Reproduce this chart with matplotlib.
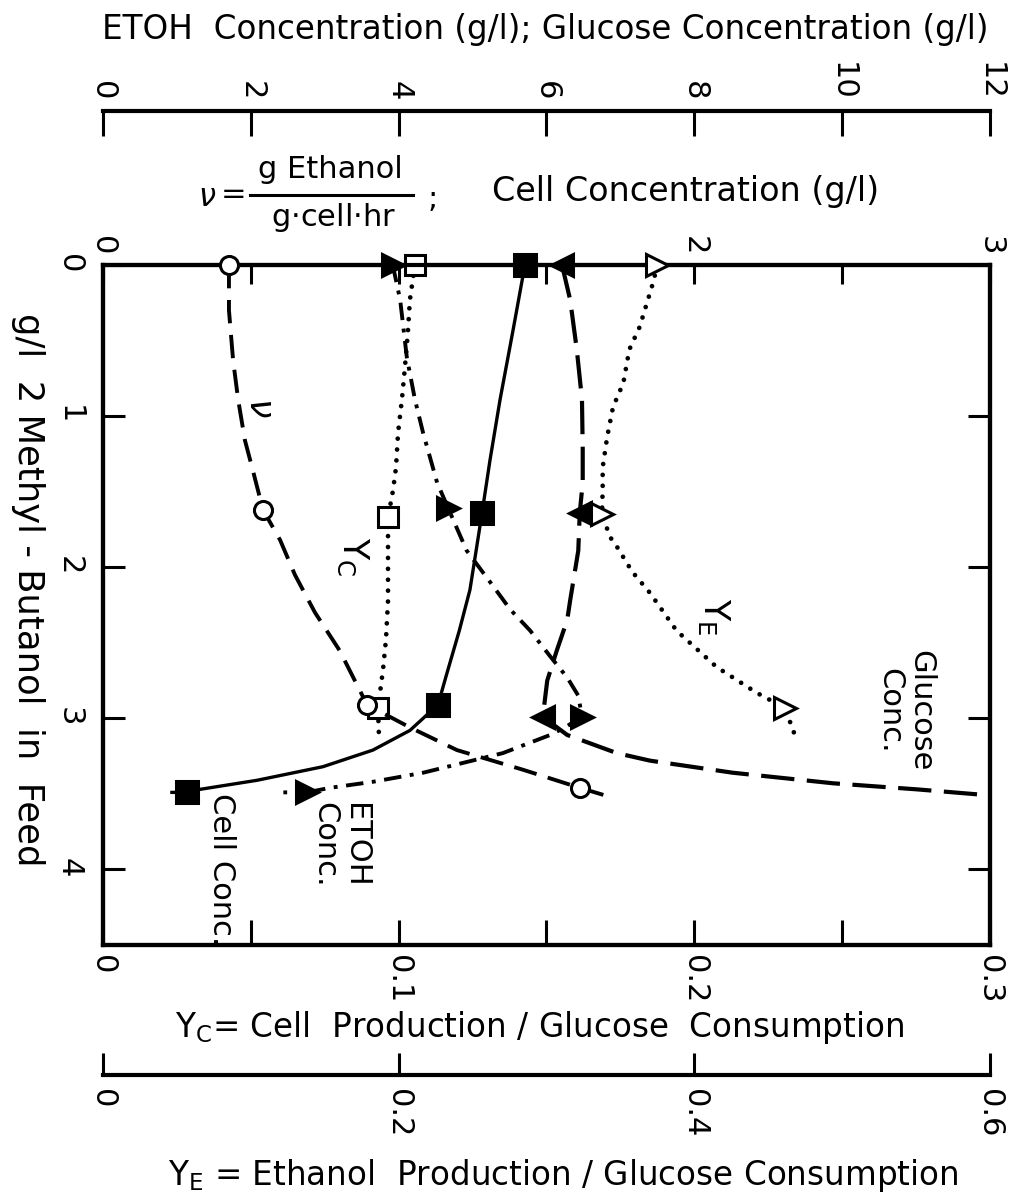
import matplotlib

matplotlib.use("Agg")
import matplotlib.pyplot as plt  # noqa: E402
from matplotlib.lines import Line2D  # noqa: E402

plt.rcParams["font.family"] = ["DejaVu Sans"]
plt.rcParams["mathtext.fontset"] = "dejavusans"

# values; y = g/l 2-methyl-butanol in feed
# nu (g ethanol / g cell hr), drawn on the cell-concentration scale 0..3
NU_FEED = [0.0, 1.62, 2.91, 3.46]
NU_VAL = [0.426, 0.541, 0.893, 1.613]
NU_LINE_FEED = [0.0, 0.30, 0.63, 0.89, 1.16, 1.36, 1.62, 1.82, 2.05, 2.30,
                2.55, 2.91, 3.06, 3.21, 3.34, 3.46, 3.52]
NU_LINE_VAL = [0.426, 0.426, 0.44, 0.457, 0.48, 0.507, 0.541, 0.599, 0.649,
               0.717, 0.80, 0.893, 1.038, 1.197, 1.42, 1.613, 1.715]

# Y_C, scale 0..0.3
YC_FEED = [0.0, 1.67, 2.93]
YC_VAL = [0.1055, 0.0964, 0.093]
YC_LINE_FEED = [0.0, 0.23, 0.45, 0.68, 0.89, 1.11, 1.34, 1.49, 1.67, 1.95,
                2.22, 2.48, 2.68, 2.93, 3.10]
YC_LINE_VAL = [0.1055, 0.1038, 0.1031, 0.1021, 0.1011, 0.0998, 0.0991,
               0.0981, 0.0964, 0.0964, 0.0964, 0.0957, 0.0947, 0.093, 0.0933]

# cell concentration g/l, scale 0..3
CELL_FEED = [0.0, 1.64, 2.91, 3.49]
CELL_VAL = [1.427, 1.282, 1.133, 0.284]
CELL_LINE_FEED = [0.0, 0.43, 0.89, 1.29, 1.64, 1.89, 2.15, 2.42, 2.71, 2.91,
                  3.08, 3.21, 3.32, 3.41, 3.47, 3.49, 3.49]
CELL_LINE_VAL = [1.427, 1.387, 1.343, 1.309, 1.282, 1.262, 1.241, 1.205,
                 1.162, 1.133, 1.038, 0.913, 0.744, 0.521, 0.328, 0.284, 0.233]

# ETOH concentration g/l, scale 0..12
ETOH_FEED = [0.0, 1.61, 2.99, 3.49]
ETOH_VAL = [3.92, 4.67, 6.48, 2.76]
ETOH_LINE_FEED = [0.0, 0.23, 0.61, 0.89, 1.11, 1.44, 1.61, 1.89, 2.10, 2.28,
                  2.42, 2.59, 2.73, 2.85, 2.99, 3.06, 3.11, 3.23, 3.36, 3.42,
                  3.46, 3.49, 3.49]
ETOH_LINE_VAL = [3.92, 4.02, 4.11, 4.22, 4.33, 4.52, 4.67, 4.92, 5.24, 5.51,
                 5.78, 6.05, 6.28, 6.43, 6.48, 6.25, 6.05, 5.41, 4.33, 3.65,
                 3.07, 2.76, 2.44]

# glucose concentration g/l, scale 0..12
GLU_FEED = [0.0, 1.64, 2.99]
GLU_VAL = [6.21, 6.45, 5.95]
GLU_LINE_FEED = [0.0, 0.23, 0.56, 0.89, 1.22, 1.44, 1.64, 1.89, 2.22, 2.35,
                 2.55, 2.75, 2.99, 3.11, 3.23, 3.28, 3.36, 3.43, 3.47, 3.51]
GLU_LINE_VAL = [6.21, 6.32, 6.41, 6.48, 6.49, 6.49, 6.45, 6.43, 6.32, 6.28,
                6.14, 6.01, 5.95, 6.28, 6.95, 7.40, 8.52, 9.88, 11.01, 12.0]

# Y_E, scale 0..0.6
YE_FEED = [0.0, 1.65, 2.93]
YE_VAL = [0.375, 0.3375, 0.461]
YE_LINE_FEED = [0.0, 0.12, 0.41, 0.56, 0.78, 0.94, 1.14, 1.34, 1.49, 1.65,
                1.80, 1.87, 2.03, 2.17, 2.42, 2.66, 2.83, 2.93, 3.08, 3.16]
YE_LINE_VAL = [0.375, 0.372, 0.363, 0.356, 0.352, 0.345, 0.341, 0.338, 0.338,
               0.3375, 0.343, 0.348, 0.358, 0.370, 0.388, 0.415, 0.442, 0.461,
               0.467, 0.469]

FEED_TICKS = [0, 1, 2, 3, 4]
YC_TICKS = [0, 0.1, 0.2, 0.3]
YC_TICK_LABELS = ["0", "0.1", "0.2", "0.3"]
CELL_TICKS = [0, 1, 2, 3]
CELL_TICK_LABELS = ["0", "", "2", "3"]
CONC_TICKS = [0, 2, 4, 6, 8, 10, 12]
YE_TICKS = [0, 0.2, 0.4, 0.6]
YE_TICK_LABELS = ["0", "0.2", "0.4", "0.6"]

W_PX, H_PX = 1012, 1200
FS = 22
FS_TITLE = 23.5
LW_SPINE = 3.0


def fx(px):
    return px / W_PX


def fy(py):
    return 1 - py / H_PX


fig = plt.figure(figsize=(W_PX / 100, H_PX / 100), dpi=100)

# main box: x = Y_C, y = feed concentration (downwards)
box = [fx(103), fy(945), fx(990) - fx(103), fy(265) - fy(945)]
ax = fig.add_axes(box)
ax.set_xlim(0, 0.3)
ax.set_ylim(4.5, 0)
for s in ax.spines.values():
    s.set_linewidth(LW_SPINE)
ax.set_xticks(YC_TICKS)
ax.set_xticklabels(YC_TICK_LABELS)
ax.set_xticks([0.05, 0.15, 0.25], minor=True)
ax.tick_params(axis="x", which="both", direction="in", length=18, width=2.2,
               labelsize=FS, labelrotation=-90, pad=7)
ax.set_yticks(FEED_TICKS)
ax.tick_params(axis="y", which="both", direction="in", length=16, width=2.2,
               left=True, right=True, labelsize=FS, labelrotation=-90, pad=14)

ax_cell = ax.twiny()
ax_cell.set_xlim(0, 3)
ax_cell.set_xticks(CELL_TICKS)
ax_cell.set_xticklabels(CELL_TICK_LABELS)
ax_cell.set_xticks([0.5, 1.5, 2.5], minor=True)
ax_cell.tick_params(axis="x", which="both", direction="in", length=14,
                    width=2.2, labelsize=FS, labelrotation=-90, pad=7)
for s in ax_cell.spines.values():
    s.set_linewidth(LW_SPINE)

ax_conc = ax.twiny()
ax_conc.set_xlim(0, 12)
ax_conc.axis("off")

ax_ye = ax.twiny()
ax_ye.set_xlim(0, 0.6)
ax_ye.axis("off")

# curves
dotted = dict(color="black", lw=3.4, linestyle=(0, (0.01, 2.3)),
              dash_capstyle="round")
ax_cell.plot(NU_LINE_VAL, NU_LINE_FEED, color="black", lw=2.8,
             linestyle=(0, (6, 3)), clip_on=False)
ax.plot(YC_LINE_VAL, YC_LINE_FEED, clip_on=False, **dotted)
ax_cell.plot(CELL_LINE_VAL, CELL_LINE_FEED, color="black", lw=2.4,
             clip_on=False)
ax_conc.plot(ETOH_LINE_VAL, ETOH_LINE_FEED, color="black", lw=2.8,
             linestyle=(0, (4.5, 2.2, 1, 2.2)), clip_on=False)
ax_conc.plot(GLU_LINE_VAL, GLU_LINE_FEED, color="black", lw=3.0,
             linestyle=(0, (8, 3)), clip_on=False)
ax_ye.plot(YE_LINE_VAL, YE_LINE_FEED, clip_on=False, **dotted)

# markers
mk = dict(linestyle="none", clip_on=False, zorder=5, markeredgecolor="black",
          markeredgewidth=2.2)
ax_cell.plot(NU_VAL, NU_FEED, marker="o", markersize=13,
             markerfacecolor="white", **mk)
ax.plot(YC_VAL, YC_FEED, marker="s", markersize=14,
        markerfacecolor="white", **mk)
ax_cell.plot(CELL_VAL, CELL_FEED, marker="s", markersize=16,
             markerfacecolor="black", **mk)
ax_conc.plot(ETOH_VAL, ETOH_FEED, marker=">", markersize=16,
             markerfacecolor="black", **mk)
ax_conc.plot(GLU_VAL, GLU_FEED, marker="<", markersize=16,
             markerfacecolor="black", **mk)
ax_ye.plot(YE_VAL, YE_FEED, marker=">", markersize=16,
           markerfacecolor="white", **mk)

# labels beside the curves
rot = dict(rotation=-90, ha="center", va="center", fontsize=FS)
ax_cell.text(0.53, 0.94, r"$\nu$", rotation=-90, ha="center", va="center",
             fontsize=FS + 3, fontweight="bold")
ax.text(0.0846, 1.93, r"Y$_\mathrm{C}$", rotation=-90, ha="center",
        va="center", fontsize=FS + 3)
ax_ye.text(0.413, 2.33, r"Y$_\mathrm{E}$", rotation=-90, ha="center",
           va="center", fontsize=FS + 3)
ax_conc.text(10.85, 2.95, "Glucose\nConc.", linespacing=1.1, **rot)
ax.text(0.0402, 4.0, "Cell Conc.", **rot)
ax.text(0.0802, 3.84, "ETOH\nConc.", linespacing=1.1, **rot)

# ETOH / glucose scale above the box
ax_top = fig.add_axes([box[0], fy(112), box[2], 0.0005])
ax_top.set_xlim(0, 12)
ax_top.set_yticks([])
for name, s in ax_top.spines.items():
    s.set_visible(name == "top")
    s.set_linewidth(LW_SPINE)
ax_top.patch.set_visible(False)
ax_top.xaxis.set_ticks_position("top")
ax_top.set_xticks(CONC_TICKS)
ax_top.tick_params(axis="x", direction="in", length=18, width=2.2,
                   labelsize=FS, labelrotation=-90, pad=8)

# Y_E scale below the box
ax_bot = fig.add_axes([box[0], fy(1075), box[2], 0.0005])
ax_bot.set_xlim(0, 0.6)
ax_bot.set_yticks([])
for name, s in ax_bot.spines.items():
    s.set_visible(name == "bottom")
    s.set_linewidth(LW_SPINE)
ax_bot.patch.set_visible(False)
ax_bot.set_xticks(YE_TICKS)
ax_bot.set_xticklabels(YE_TICK_LABELS)
ax_bot.tick_params(axis="x", direction="in", length=16, width=2.2,
                   labelsize=FS, labelrotation=-90, pad=10)

# axis titles
fig.text(fx(545), fy(30), "ETOH  Concentration (g/l); Glucose Concentration (g/l)",
         ha="center", va="center", fontsize=FS_TITLE)
fig.text(fx(207), fy(197), r"$\nu$", ha="center", va="center", fontsize=FS,
         fontweight="bold")
fig.text(fx(234), fy(195), "=", ha="center", va="center", fontsize=FS)
fig.text(fx(330), fy(170), "g Ethanol", ha="center", va="center", fontsize=FS)
fig.text(fx(334), fy(218), "g$\\cdot$cell$\\cdot$hr", ha="center", va="center",
         fontsize=FS)
fig.add_artist(Line2D([fx(250), fx(413)], [fy(195), fy(195)], color="black",
                      lw=2.2))
fig.text(fx(433), fy(199), ";", ha="center", va="center", fontsize=FS)
fig.text(fx(686), fy(192), "Cell Concentration (g/l)", ha="center",
         va="center", fontsize=FS_TITLE + 0.5)
fig.text(fx(28), fy(590), "g/l  2 Methyl - Butanol  in  Feed", rotation=-90,
         ha="center", va="center", fontsize=FS_TITLE + 2)
fig.text(fx(540), fy(1027), r"Y$_\mathrm{C}$= Cell  Production / Glucose  Consumption",
         ha="center", va="center", fontsize=FS_TITLE)
fig.text(fx(563), fy(1176), r"Y$_\mathrm{E}$ = Ethanol  Production / Glucose Consumption",
         ha="center", va="center", fontsize=FS_TITLE)

fig.savefig("out.png", dpi=100)
